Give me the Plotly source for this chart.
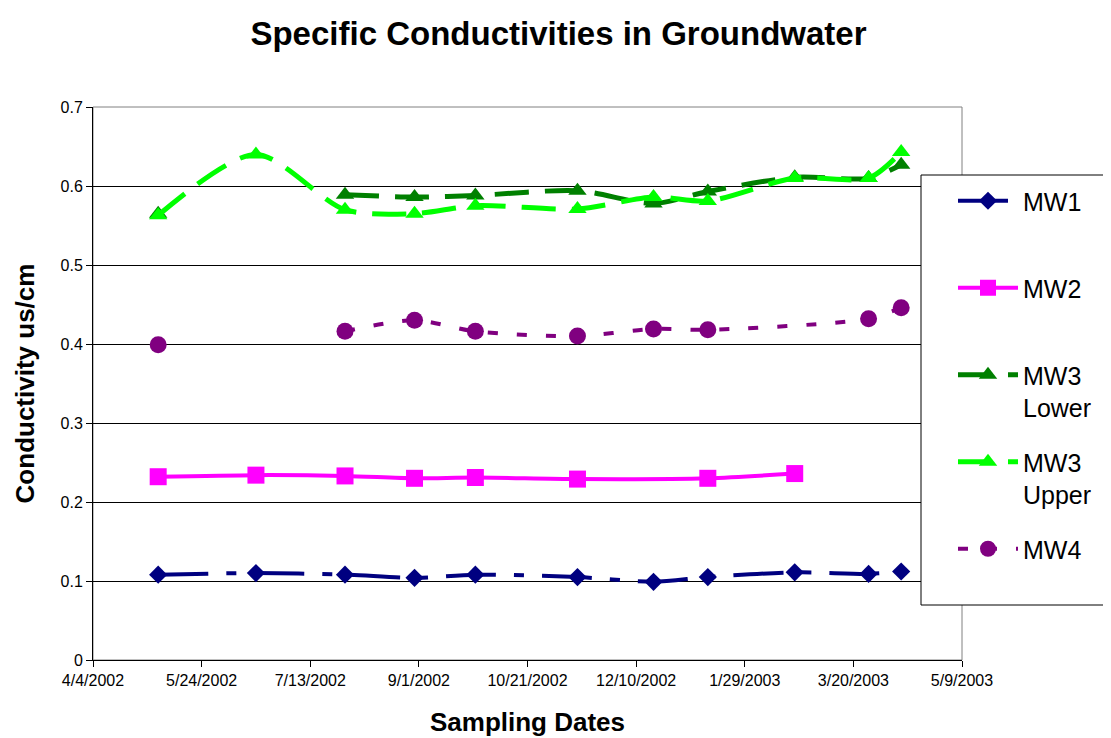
import plotly.graph_objects as go

# ---- data ----
mw1_dates = ["2002-05-04", "2002-06-18", "2002-07-29", "2002-08-30", "2002-09-27", "2002-11-13",
             "2002-12-18", "2003-01-12", "2003-02-21", "2003-03-27", "2003-04-11"]
mw1_vals = [0.108, 0.110, 0.108, 0.104, 0.108, 0.105, 0.099, 0.105, 0.111, 0.109, 0.112]

mw2_dates = ["2002-05-04", "2002-06-18", "2002-07-29", "2002-08-30", "2002-09-27", "2002-11-13",
             "2003-01-12", "2003-02-21"]
mw2_vals = [0.232, 0.234, 0.233, 0.230, 0.231, 0.229, 0.230, 0.236]

mw3l_dates = ["2002-05-04", "2002-06-18", "2002-07-29", "2002-08-30", "2002-09-27", "2002-11-13",
              "2002-12-18", "2003-01-12", "2003-02-21", "2003-03-27", "2003-04-11"]
mw3l_vals = [0.565, None, 0.589, 0.586, 0.588, 0.594, 0.578, 0.593, 0.611, 0.610, 0.627]

mw3u_dates = ["2002-05-04", "2002-06-18", "2002-07-29", "2002-08-30", "2002-09-27", "2002-11-13",
              "2002-12-18", "2003-01-12", "2003-02-21", "2003-03-27", "2003-04-11"]
mw3u_vals = [0.563, 0.640, 0.570, 0.565, 0.575, 0.571, 0.586, 0.581, 0.610, 0.610, 0.643]

mw4_dates = ["2002-05-04", "2002-06-18", "2002-07-29", "2002-08-30", "2002-09-27", "2002-11-13",
             "2002-12-18", "2003-01-12", "2003-03-27", "2003-04-11"]
mw4_vals = [0.399, None, 0.416, 0.430, 0.416, 0.410, 0.419, 0.418, 0.432, 0.446]

x_tick_vals = ["2002-04-04", "2002-05-24", "2002-07-13", "2002-09-01", "2002-10-21",
               "2002-12-10", "2003-01-29", "2003-03-20", "2003-05-09"]
x_tick_text = ["4/4/2002", "5/24/2002", "7/13/2002", "9/1/2002", "10/21/2002",
               "12/10/2002", "1/29/2003", "3/20/2003", "5/9/2003"]

FONT = "Arial, Liberation Sans, sans-serif"

# figure geometry (the page body adds an 8px offset)
W, H = 1111, 730
ML, MR, MT, MB = 85, 157, 99, 78
PW, PH = W - ML - MR, H - MT - MB


def px_x(v):  # figure pixel -> paper x
    return (v - ML) / PW


def px_y(v):  # figure pixel -> paper y
    return (H - MB - v) / PH


fig = go.Figure()

series = [
    ("MW1<br> ", mw1_dates, mw1_vals, "#000080", "50px,18px,10px,18px", "diamond", 14, 4),
    ("MW2<br> ", mw2_dates, mw2_vals, "#FF00FF", "solid", "square", 17, 4),
    ("MW3<br>Lower", mw3l_dates, mw3l_vals, "#008000", "34px,16px", "triangle-up", 16, 5),
    ("MW3<br>Upper", mw3u_dates, mw3u_vals, "#00FF00", "34px,16px", "triangle-up", 16, 5),
    ("MW4<br> ", mw4_dates, mw4_vals, "#800080", "10px,19px", "circle", 17, 4),
]

for i, (name, xs, ys, col, dash, sym, msize, lw) in enumerate(series):
    fig.add_trace(go.Scatter(
        x=xs, y=ys, name=name, mode="lines+markers",
        line=dict(color=col, width=lw, dash=dash, shape="spline", smoothing=0.8),
        marker=dict(symbol=sym, size=msize, color=col, line=dict(width=0)),
        connectgaps=False, legendgroup=f"g{i}",
    ))

lx0, lx1, ly_top, ly_bot = px_x(913), px_x(1140), px_y(167), px_y(597)

fig.update_layout(
    width=W, height=H,
    paper_bgcolor="white", plot_bgcolor="white",
    margin=dict(l=ML, r=MR, t=MT, b=MB, autoexpand=False),
    title=dict(text="<b>Specific Conductivities in Groundwater</b>",
               x=(550.5) / W, xanchor="center", y=1 - 25 / H, yanchor="middle",
               font=dict(family=FONT, size=33, color="black")),
    font=dict(family=FONT, color="black"),
    showlegend=True,
    legend=dict(x=px_x(945), y=px_y(170), xanchor="left", yanchor="top",
                font=dict(family=FONT, size=25, color="black"),
                bgcolor="rgba(0,0,0,0)", borderwidth=0,
                tracegroupgap=19, valign="top", itemwidth=60),
    xaxis=dict(
        type="date", range=["2002-04-04", "2003-05-09"],
        tickvals=x_tick_vals, ticktext=x_tick_text,
        tickfont=dict(family=FONT, size=16, color="black"),
        ticks="outside", ticklen=6, tickcolor="black",
        showgrid=False, zeroline=False,
        showline=True, linecolor="black", linewidth=1, mirror=False,
        title=dict(text="<b>Sampling Dates</b>", font=dict(family=FONT, size=26, color="black"),
                   standoff=24),
    ),
    yaxis=dict(
        range=[0, 0.7], dtick=0.1, tick0=0,
        tickfont=dict(family=FONT, size=16, color="black"),
        ticks="outside", ticklen=6, tickcolor="black",
        showgrid=True, gridcolor="black", gridwidth=1, zeroline=False,
        showline=True, linecolor="black", linewidth=1, mirror=False,
        title=dict(text="<b>Conductivity us/cm</b>", font=dict(family=FONT, size=26, color="black"),
                   standoff=18),
    ),
    shapes=[
        # gray plot frame (top/right)
        dict(type="rect", xref="paper", yref="paper", x0=0, x1=1, y0=0, y1=1,
             line=dict(color="#808080", width=1), layer="below"),
        # legend background (runs off the right edge)
        dict(type="rect", xref="paper", yref="paper",
             x0=lx0, x1=lx1, y0=ly_bot, y1=ly_top,
             line=dict(width=0), fillcolor="white", layer="above"),
        # legend border: top, left and bottom sides only
        dict(type="path", xref="paper", yref="paper",
             path=f"M {lx1},{ly_top} L {lx0},{ly_top} L {lx0},{ly_bot} L {lx1},{ly_bot}",
             line=dict(color="black", width=1), layer="above"),
    ],
)

fig.write_html("out.html")
